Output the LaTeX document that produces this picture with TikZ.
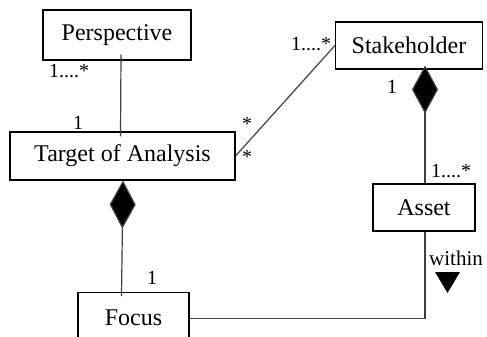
\documentclass[tikz,border=0pt]{standalone}
\usepackage{fontspec}
\setmainfont{Liberation Serif}
\usetikzlibrary{arrows.meta}
\begin{document}
\begin{tikzpicture}[x=1pt,y=-1pt,
  cls/.style={draw=black,line width=1.1pt,fill=white,inner sep=0pt,font=\fontsize{24}{26}\selectfont},
  conn/.style={draw=black!75,line width=1.2pt},
  mult/.style={inner sep=0pt,font=\fontsize{20}{22}\selectfont},
  comp/.style={-{Diamond[length=48pt,width=26pt,fill=black]}}]
\useasboundingbox (0,0) rectangle (487,337);
\begin{scope}
\clip (0,0) rectangle (487,337);
\node[cls,minimum width=148pt,minimum height=50pt] (persp) at (117,35) {Perspective};
\node[cls,minimum width=225pt,minimum height=48pt] (targ) at (122.5,156) {Target of Analysis};
\node[cls,minimum width=147pt,minimum height=47pt] (stake) at (409,45.5) {Stakeholder};
\node[cls,minimum width=102pt,minimum height=47pt] (asset) at (424,207.5) {Asset};
\node[cls,minimum width=111pt,minimum height=50pt,anchor=north] (focus) at (133.5,292) {\raisebox{-4pt}{Focus}};
\end{scope}
\coordinate (pa) at ([xshift=4pt,yshift=6pt]persp.south);
\coordinate (pb) at ([xshift=-2pt,yshift=-5pt]targ.north);
\draw[conn] (pa) -- (pb);
\draw[conn] (targ.east) -- (stake.west);
\coordinate (ta) at ([xshift=0.5pt]targ.south);
\coordinate (fa) at ([xshift=-12pt,yshift=-4pt]focus.north);
\draw[conn,comp] (fa) -- (ta);
\coordinate (sa) at (stake.south -| asset.north);
\coordinate (sb) at ([xshift=1pt,yshift=4pt]sa);
\coordinate (ab) at ([xshift=1pt]asset.north);
\draw[conn,comp] (ab) -- (sb);
\coordinate (fb) at ([yshift=-1pt]focus.east);
\coordinate (ac) at ([xshift=1pt]asset.south);
\draw[conn] (fb) -| (ac);
\node[mult] (m1) at (69,71) {1....*};
\node[mult] (m2) at (78,123) {1};
\node[mult] (m3) at (247,124) {*};
\node[mult] (m4) at (247,157) {*};
\node[mult] (m5) at (311,44) {1....*};
\node[mult] (m6) at (392,87) {1};
\node[mult] (m7) at (451,171) {1....*};
\node[mult] (m8) at (152,278) {1};
\node[mult,font=\fontsize{21}{23}\selectfont] (w) at (456,258) {within};
\fill[black] (435,272) -- (460,272) -- (447.5,293) -- cycle;
\end{tikzpicture}
\end{document}
